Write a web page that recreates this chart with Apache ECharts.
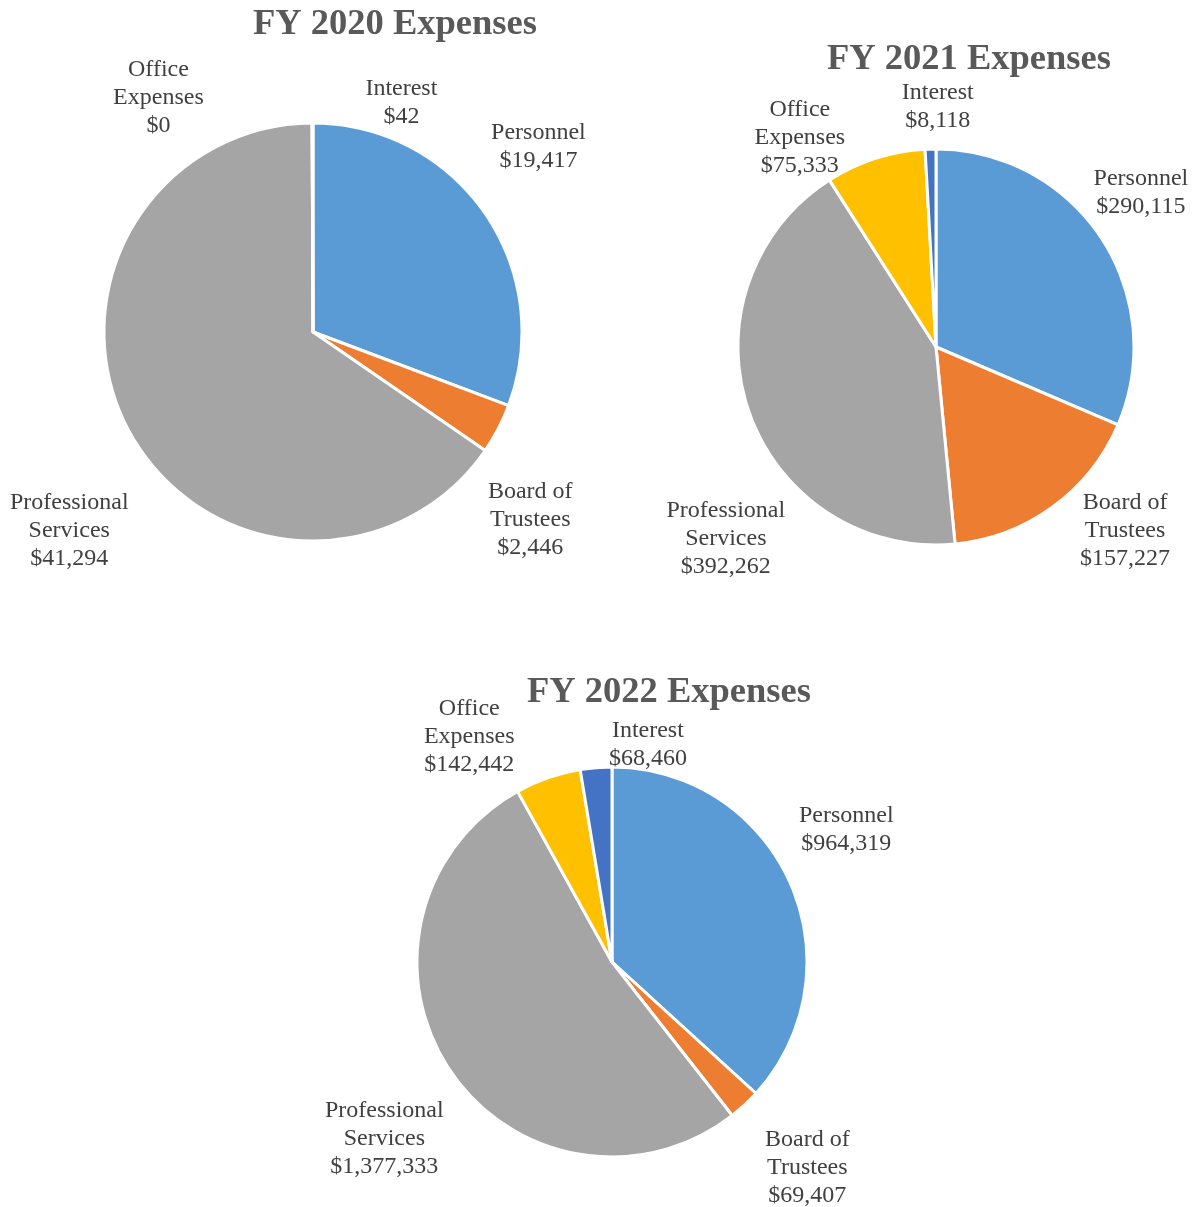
<!DOCTYPE html>
<html>
<head>
<meta charset="utf-8">
<script src="https://cdn.jsdelivr.net/npm/echarts@6/dist/echarts.min.js"></script>
<style>
  html, body { margin: 0; padding: 0; background: #fff; }
  #chart { width: 1193px; height: 1207px; }
</style>
</head>
<body>
<div id="chart"></div>
<script>
// expense categories, clockwise from 12 o'clock
const categories = ['Personnel', 'Board of\nTrustees', 'Professional\nServices', 'Office\nExpenses', 'Interest']
const colors = ['#5B9BD5', '#ED7D31', '#A5A5A5', '#FFC000', '#4472C4']

const fy2020 = [19417, 2446, 41294, 0, 42]
const fy2021 = [290115, 157227, 392262, 75333, 8118]
const fy2022 = [964319, 69407, 1377333, 142442, 68460]

const serif = '"Liberation Serif", "Times New Roman", serif'

// pie placement and label tweaks (angle shift in degrees, gap beyond rim in px)
const pies = [
  { values: fy2020, center: [313, 332], radius: 209,
    shift: [-5, 13, -11, -33, 21], gap: [84, 77, 104, 73, 39] },
  { values: fy2021, center: [936, 347], radius: 198,
    shift: [-4, -10, -23, -15, 2], gap: [60, 64, 85, 53, 44] },
  { values: fy2022, center: [612, 962], radius: 195,
    shift: [-6, -1, -4, -13, 14], gap: [75, 87, 92, 73, 27] },
]

function labelPos(pie, i) {
  const total = pie.values.reduce((a, b) => a + b, 0)
  let before = 0
  for (let k = 0; k < i; k++) before += pie.values[k]
  const mid = (before + pie.values[i] / 2) / total * 360 + pie.shift[i]
  const rad = mid * Math.PI / 180
  const d = pie.radius + pie.gap[i]
  return [pie.center[0] + d * Math.sin(rad), pie.center[1] - d * Math.cos(rad) + 2]
}

function makePie(pie) {
  return {
    type: 'pie',
    center: pie.center,
    radius: pie.radius,
    startAngle: 90,
    clockwise: true,
    minShowLabelAngle: 0,
    avoidLabelOverlap: false,
    data: pie.values.map((v, i) => ({
      name: categories[i],
      value: v,
      itemStyle: { color: colors[i] },
    })),
    itemStyle: { borderColor: '#fff', borderWidth: 3 },
    label: {
      show: true,
      position: 'outside',
      formatter: (p) => p.name + '\n$' + p.value.toLocaleString('en-US'),
      color: '#404040',
      fontFamily: serif,
      fontSize: 24,
      lineHeight: 28,
    },
    labelLine: { show: false },
    labelLayout: (params) => {
      const [x, y] = labelPos(pie, params.dataIndex)
      return { x: x, y: y, align: 'center', verticalAlign: 'middle' }
    },
    emphasis: { disabled: true },
  }
}

const chart = echarts.init(document.getElementById('chart'))
const titleStyle = { fontFamily: serif, fontSize: 36.5, fontWeight: 'bold', color: '#595959' }

chart.setOption({
  animation: false,
  title: [
    { text: 'FY 2020 Expenses', left: 390, top: 1, textAlign: 'center', textStyle: titleStyle },
    { text: 'FY 2021 Expenses', left: 964, top: 36, textAlign: 'center', textStyle: titleStyle },
    { text: 'FY 2022 Expenses', left: 664, top: 669, textAlign: 'center', textStyle: titleStyle },
  ],
  series: pies.map(makePie),
})
</script>
</body>
</html>
